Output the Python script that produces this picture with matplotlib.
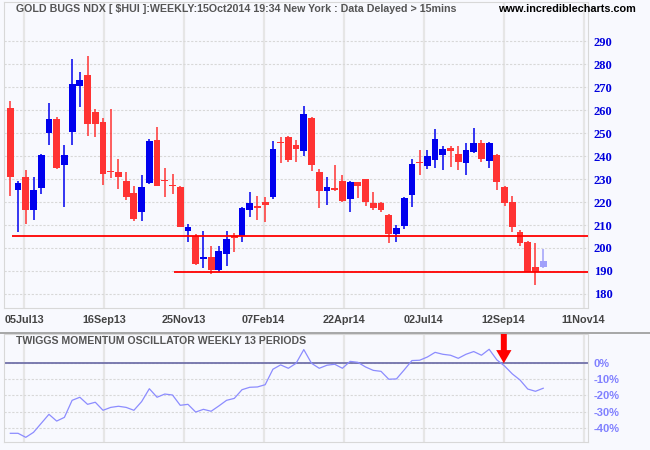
import numpy as np
import matplotlib.pyplot as plt

# weekly OHLC for $HUI, Jun 2013 - Oct 2014
opens = [261.0, 225.4, 231.0, 216.4, 225.9, 250.2, 256.1, 236.3, 250.6, 270.5,
         275.1, 259.1, 254.8, 233.6, 233.1, 229.3, 224.1, 215.6, 228.4, 247.0,
         229.6, 227.5, 226.7, 207.3, 205.4, 195.0, 196.3, 190.3, 197.4, 205.4,
         205.2, 216.4, 218.4, 219.9, 222.0, 246.3, 248.3, 244.9, 242.4, 256.5,
         233.1, 224.6, 225.9, 229.3, 221.2, 228.8, 230.1, 219.7, 219.7, 214.5,
         206.0, 209.5, 223.2, 237.2, 235.5, 238.1, 240.3, 243.6, 241.0, 236.8,
         241.6, 245.8, 237.7, 240.6, 226.7, 220.1, 206.8, 202.6, 191.9, 191.6]
highs = [264.0, 229.3, 234.0, 231.0, 240.9, 263.0, 257.0, 244.8, 282.1, 276.4,
         283.4, 260.4, 256.4, 260.4, 238.8, 233.1, 227.1, 231.8, 247.3, 252.6,
         234.9, 232.3, 226.9, 210.5, 205.9, 207.2, 200.7, 200.7, 207.2, 206.7,
         218.0, 224.5, 222.8, 222.3, 246.6, 248.3, 248.7, 247.0, 261.7, 257.0,
         234.4, 231.0, 236.2, 231.8, 229.3, 228.9, 230.2, 224.5, 219.8, 214.6,
         210.2, 222.3, 238.7, 242.8, 242.8, 251.9, 244.5, 244.5, 244.5, 245.8,
         252.3, 247.1, 246.2, 240.7, 226.8, 222.8, 207.8, 203.0, 202.2, 199.7]
lows = [222.8, 206.9, 210.6, 212.1, 223.3, 245.0, 234.4, 217.7, 245.0, 261.4,
        248.9, 248.4, 227.2, 230.5, 225.5, 220.7, 211.6, 211.6, 228.0, 226.8,
        222.0, 223.3, 209.0, 202.7, 192.4, 191.3, 188.7, 189.7, 192.2, 198.2,
        202.6, 213.4, 212.1, 211.5, 221.5, 236.8, 237.3, 237.3, 239.8, 233.3,
        217.3, 218.6, 224.6, 220.0, 215.6, 221.9, 218.1, 216.7, 215.6, 202.1,
        202.6, 208.2, 217.7, 231.7, 234.2, 234.6, 233.8, 235.1, 233.8, 231.6,
        241.4, 237.2, 234.6, 225.1, 218.1, 206.8, 200.7, 189.6, 183.8, 191.5]
closes = [231.0, 228.4, 216.4, 225.4, 240.5, 256.1, 235.0, 240.5, 271.2, 273.0,
          254.1, 254.1, 232.4, 233.2, 230.7, 222.0, 212.5, 226.7, 246.6, 227.1,
          229.1, 227.0, 209.3, 209.3, 192.9, 195.9, 190.3, 198.5, 203.7, 204.3,
          217.6, 219.7, 217.3, 218.9, 243.1, 245.7, 238.1, 243.1, 258.3, 236.3,
          225.0, 226.7, 225.4, 220.3, 228.8, 226.8, 219.9, 217.3, 216.4, 206.3,
          208.9, 221.9, 236.7, 236.9, 240.1, 247.5, 243.2, 242.0, 237.2, 242.8,
          245.8, 238.6, 245.8, 228.6, 219.4, 209.0, 202.0, 189.7, 189.6, 194.5]

# Twiggs momentum oscillator, 13 weeks (%)
twiggs = [-43.5, -43.5, -46.0, -42.9, -37.3, -31.7, -35.9, -33.6, -23.0, -21.1,
          -25.5, -24.2, -29.2, -27.4, -26.7, -27.4, -29.2, -23.8, -15.8, -21.1,
          -19.1, -19.7, -26.1, -25.5, -30.3, -28.6, -29.8, -26.5, -23.0, -21.8,
          -16.4, -14.9, -14.7, -13.3, -3.7, -1.0, -3.1, 0.0, 8.5, 0.0,
          -3.1, -1.2, -0.6, -3.1, 1.2, 0.6, -2.3, -4.4, -5.0, -9.9,
          -9.7, -4.1, 1.7, 1.9, 3.9, 6.8, 5.6, 5.0, 3.1, 5.6,
          7.3, 5.0, 8.7, 2.1, -1.7, -6.6, -10.4, -16.0, -17.4, -15.5]

tick_labels = ['05Jul13', '16Sep13', '25Nov13', '07Feb14', '22Apr14',
               '02Jul14', '12Sep14', '11Nov14']
price_ticks = list(range(180, 300, 10))
osc_ticks = [0, -10, -20, -30, -40]

resistance = 205.3   # week 0 onwards
support = 189.7      # week 21 onwards
signal_week = 63.9   # red arrow

bg = '#f8f9fe'
red = '#ff3333'
blue = '#0000ee'

fig = plt.figure(figsize=(6.5, 4.5), dpi=100, facecolor=bg)
W, H = 650.0, 450.0

def box(l, t, r, b):
    return [l / W, 1 - b / H, (r - l) / W, (b - t) / H]

ax = fig.add_axes(box(4, 2, 588, 308), facecolor=bg)
ax2 = fig.add_axes(box(4, 334, 588, 442), facecolor=bg)

x = np.arange(len(opens))
o = np.array(opens); c = np.array(closes)
colors = [red if cc < oo else blue for oo, cc in zip(opens, closes)]
colors[-1] = '#a0a0fa'

ax.vlines(x, lows, highs, colors=colors, lw=1.1, zorder=3)
ax.bar(x, np.maximum(np.abs(c - o), 0.45), bottom=np.minimum(o, c),
       width=0.88, color=colors, zorder=4)

xmax = 74.8
ax.hlines(resistance, 0.2, xmax, colors='#ff0000', lw=1.3, zorder=5)
ax.hlines(support, 21.2, xmax, colors='#ff0000', lw=1.3, zorder=5)

xt = 1.77 + 10.35 * np.arange(len(tick_labels))
for a in (ax, ax2):
    a.set_xlim(-0.82, xmax)
    a.set_xticks(xt)
    a.grid(axis='x', color='#e6e6e6', lw=1.6)
    a.grid(axis='y', color='#d8d8d8', lw=0.8, linestyle=(0, (2, 1.5)))
    a.set_axisbelow(True)
    a.yaxis.tick_right()
    a.tick_params(length=0)
    for s in a.spines.values():
        s.set_color('#d8d8d8')

ax.set_ylim(173.9, 307.0)
ax.set_yticks(price_ticks)
ax.set_yticklabels([str(v) for v in price_ticks], color='#0000dd',
                   fontfamily='Liberation Serif', fontweight='bold', fontsize=9)
ax.tick_params(axis='y', pad=4.3)
ax.set_xticklabels(tick_labels, color='#444444', fontfamily='Liberation Sans',
                   fontweight='bold', fontsize=7.8)
ax.tick_params(axis='x', pad=5)

ax2.plot(x, twiggs, color='#8c8cff', lw=0.9, zorder=3)
ax2.axhline(0, color='#7272aa', lw=1.3, zorder=2)
ax2.set_ylim(-48.9, 18.2)
ax2.set_yticks(osc_ticks)
ax2.set_yticklabels(['%d%%' % v for v in osc_ticks], color='#8080ff',
                    fontfamily='Liberation Sans', fontweight='bold', fontsize=8)
ax2.tick_params(axis='y', pad=4.3)
ax2.set_xticklabels([])
ax2.annotate('', xy=(signal_week, 0), xytext=(signal_week, 18.2),
             arrowprops=dict(facecolor='#ff0000', edgecolor='none', width=4.3,
                             headwidth=11, headlength=9.5, shrink=0),
             annotation_clip=False, zorder=6)

# separator between panels
fig.add_artist(plt.Line2D([0, 1], [1 - 332.5 / H] * 2, color='#999999', lw=1.2))

fig.text(16 / W, 1 - 9 / H,
         'GOLD BUGS NDX [ $HUI ]:WEEKLY:15Oct2014 19:34 New York : Data Delayed > 15mins',
         color='#555555', fontfamily='Liberation Sans', fontweight='bold',
         fontsize=7.7, va='center', ha='left')
fig.text(636 / W, 1 - 9 / H, 'www.incrediblecharts.com', color='#000000',
         fontfamily='Liberation Sans', fontweight='bold', fontsize=7.8,
         va='center', ha='right')
fig.text(16 / W, 1 - 341 / H, 'TWIGGS MOMENTUM OSCILLATOR WEEKLY 13 PERIODS',
         color='#555555', fontfamily='Liberation Sans', fontweight='bold',
         fontsize=7.6, va='center', ha='left')

fig.savefig('out.png', dpi=100, facecolor=bg)
